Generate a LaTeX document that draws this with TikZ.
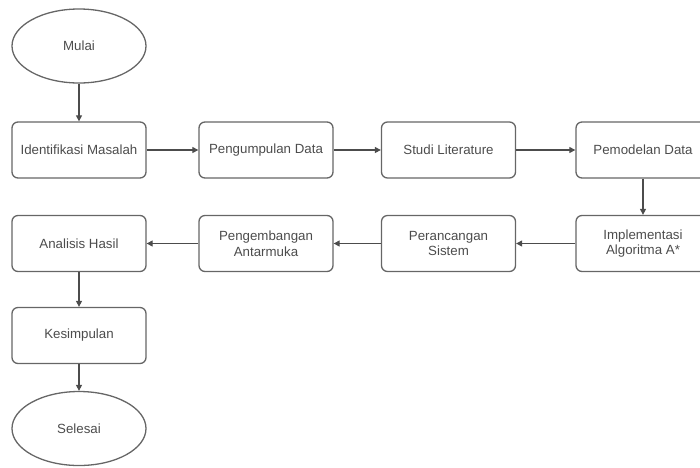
\documentclass[tikz,border=0pt]{standalone}
\usepackage{fontspec}
\setmainfont{Liberation Sans}
\usetikzlibrary{shapes.geometric,arrows.meta}

\begin{document}
\begin{tikzpicture}[x=1pt,y=-1pt,
		stepbox/.style={draw=black!60, line width=1.3pt, rounded corners=6pt, minimum width=134pt, minimum height=56pt, align=center, text=black!70, font=\fontsize{13.3}{15.5}\selectfont},
		terminal/.style={draw=black!60, line width=1.3pt, ellipse, minimum width=134pt, minimum height=74pt, inner sep=0pt, text=black!70, font=\fontsize{13.3}{15.5}\selectfont},
		flow/.style={draw=black!70, line width=1.1pt, -{Triangle[length=6pt,width=6pt]}}]
		\useasboundingbox (0,0) rectangle (700,467);
		\clip (0,0) rectangle (700,467);
		\node[terminal] (mulai) at (79,46) {Mulai};
		\node[stepbox] (identifikasi) at (79,150) {Identifikasi Masalah};
		\node[stepbox] (pengumpulan) at (266,150) {Pengumpulan Data};
		\node[stepbox] (studi) at (448.5,150) {Studi Literature};
		\node[stepbox] (pemodelan) at (643,150) {Pemodelan Data};
		\node[stepbox] (implementasi) at (643,243.5) {Implementasi\\Algoritma A*};
		\node[stepbox] (perancangan) at (448.5,243.5) {Perancangan\\Sistem};
		\node[stepbox] (pengembangan) at (266,243.5) {Pengembangan\\Antarmuka};
		\node[stepbox] (analisis) at (79,243.5) {Analisis Hasil};
		\node[stepbox] (kesimpulan) at (79,335.5) {Kesimpulan};
		\node[terminal] (selesai) at (79,428.5) {Selesai};
		\draw[flow] (mulai) -- (identifikasi);
		\draw[flow] (identifikasi) -- (pengumpulan);
		\draw[flow] (pengumpulan) -- (studi);
		\draw[flow] (studi) -- (pemodelan);
		\draw[flow] (pemodelan) -- (implementasi);
		\draw[flow] (implementasi) -- (perancangan);
		\draw[flow] (perancangan) -- (pengembangan);
		\draw[flow] (pengembangan) -- (analisis);
		\draw[flow] (analisis) -- (kesimpulan);
		\draw[flow] (kesimpulan) -- (selesai);
	\end{tikzpicture}
\end{document}
